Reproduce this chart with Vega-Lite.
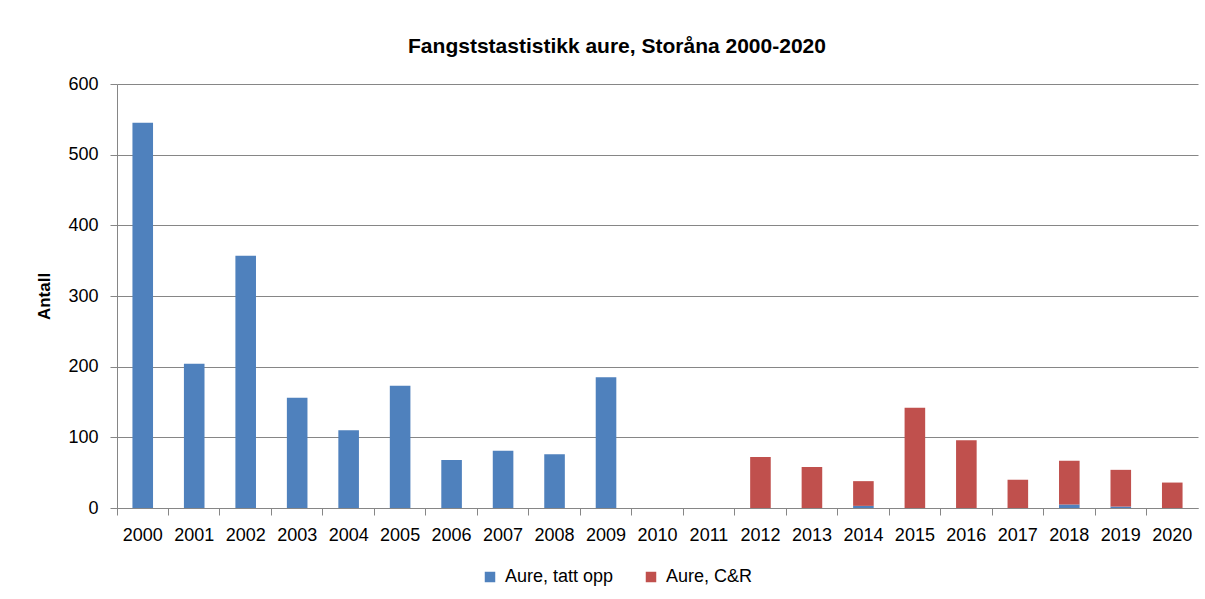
{
  "$schema": "https://vega.github.io/schema/vega-lite/v6.json",
  "width": 1081,
  "height": 424,
  "autosize": {"type": "none"},
  "padding": {"left": 117, "top": 84, "right": 7, "bottom": 91},
  "background": "white",
  "title": {
    "text": "Fangststastistikk aure, Storåna 2000-2020",
    "font": "Liberation Sans",
    "fontSize": 21,
    "fontWeight": "bold",
    "color": "#000000",
    "anchor": "middle",
    "frame": "bounds",
    "offset": 18
  },
  "data": {
    "values": [
      {"year": "2000", "series": "Aure, tatt opp", "value": 545},
      {"year": "2001", "series": "Aure, tatt opp", "value": 204},
      {"year": "2002", "series": "Aure, tatt opp", "value": 357},
      {"year": "2003", "series": "Aure, tatt opp", "value": 156},
      {"year": "2004", "series": "Aure, tatt opp", "value": 110},
      {"year": "2005", "series": "Aure, tatt opp", "value": 173},
      {"year": "2006", "series": "Aure, tatt opp", "value": 68},
      {"year": "2007", "series": "Aure, tatt opp", "value": 81},
      {"year": "2008", "series": "Aure, tatt opp", "value": 76},
      {"year": "2009", "series": "Aure, tatt opp", "value": 185},
      {"year": "2010", "series": "Aure, tatt opp", "value": 0},
      {"year": "2011", "series": "Aure, tatt opp", "value": 0},
      {"year": "2012", "series": "Aure, tatt opp", "value": 0},
      {"year": "2013", "series": "Aure, tatt opp", "value": 0},
      {"year": "2014", "series": "Aure, tatt opp", "value": 3},
      {"year": "2015", "series": "Aure, tatt opp", "value": 0},
      {"year": "2016", "series": "Aure, tatt opp", "value": 0},
      {"year": "2017", "series": "Aure, tatt opp", "value": 0},
      {"year": "2018", "series": "Aure, tatt opp", "value": 5},
      {"year": "2019", "series": "Aure, tatt opp", "value": 2},
      {"year": "2020", "series": "Aure, tatt opp", "value": 0},
      {"year": "2012", "series": "Aure, C&R", "value": 72},
      {"year": "2013", "series": "Aure, C&R", "value": 58},
      {"year": "2014", "series": "Aure, C&R", "value": 35},
      {"year": "2015", "series": "Aure, C&R", "value": 142},
      {"year": "2016", "series": "Aure, C&R", "value": 96},
      {"year": "2017", "series": "Aure, C&R", "value": 40},
      {"year": "2018", "series": "Aure, C&R", "value": 62},
      {"year": "2019", "series": "Aure, C&R", "value": 52},
      {"year": "2020", "series": "Aure, C&R", "value": 36}
    ]
  },
  "mark": {"type": "bar", "width": {"band": 0.4}},
  "encoding": {
    "x": {
      "field": "year",
      "type": "ordinal",
      "scale": {"paddingInner": 0, "paddingOuter": 0},
      "axis": {
        "title": null,
        "labelAngle": 0,
        "labelFont": "Liberation Sans",
        "labelFontSize": 18,
        "labelColor": "#000000",
        "labelPadding": 11,
        "bandPosition": 0,
        "domainColor": "#868686",
        "tickColor": "#868686",
        "tickSize": 7,
        "grid": false
      }
    },
    "y": {
      "field": "value",
      "type": "quantitative",
      "stack": "zero",
      "scale": {"domain": [0, 600], "nice": false},
      "axis": {
        "title": "Antall",
        "titleFont": "Liberation Sans",
        "titleFontSize": 17,
        "titleFontWeight": "bold",
        "titleColor": "#000000",
        "titlePadding": 14,
        "values": [0, 100, 200, 300, 400, 500, 600],
        "labelFont": "Liberation Sans",
        "labelFontSize": 18,
        "labelColor": "#000000",
        "labelPadding": 12,
        "domainColor": "#868686",
        "tickColor": "#868686",
        "tickSize": 7,
        "grid": true,
        "gridColor": "#868686"
      }
    },
    "color": {
      "field": "series",
      "type": "nominal",
      "scale": {"domain": ["Aure, tatt opp", "Aure, C&R"], "range": ["#4F81BD", "#C0504D"]},
      "legend": {
        "title": null,
        "orient": "none",
        "legendX": 364,
        "legendY": 484,
        "direction": "horizontal",
        "symbolType": "square",
        "symbolSize": 110,
        "symbolStrokeWidth": 0,
        "labelFont": "Liberation Sans",
        "labelFontSize": 18,
        "labelColor": "#000000",
        "labelOffset": 6,
        "columnPadding": 28
      }
    },
    "order": {"field": "series", "sort": "descending"}
  },
  "config": {"view": {"stroke": null}}
}
